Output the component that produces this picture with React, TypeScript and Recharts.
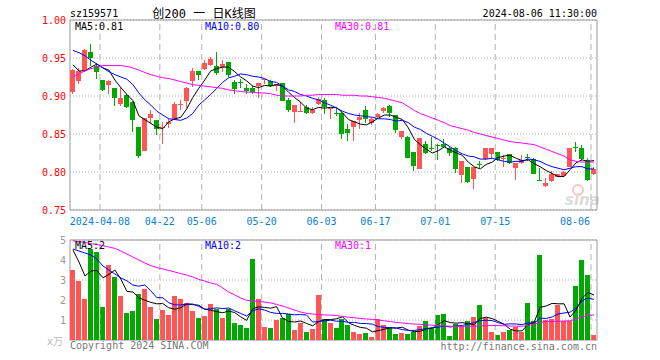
import React from 'react';
import {
  ComposedChart,
  Bar,
  Line,
  XAxis,
  YAxis,
  CartesianGrid,
  ReferenceLine,
  ReferenceArea
} from 'recharts';

// trading days 2024-03-28 .. 2024-08-06
const dates = [
  '03-28', '03-29', '04-01', '04-02', '04-03', '04-08', '04-09', '04-10', '04-11', '04-12',
  '04-15', '04-16', '04-17', '04-18', '04-19', '04-22', '04-23', '04-24', '04-25', '04-26',
  '04-29', '04-30', '05-06', '05-07', '05-08', '05-09', '05-10', '05-13', '05-14', '05-15',
  '05-16', '05-17', '05-20', '05-21', '05-22', '05-23', '05-24', '05-27', '05-28', '05-29',
  '05-30', '05-31', '06-03', '06-04', '06-05', '06-06', '06-07', '06-11', '06-12', '06-13',
  '06-14', '06-17', '06-18', '06-19', '06-20', '06-21', '06-24', '06-25', '06-26', '06-27',
  '06-28', '07-01', '07-02', '07-03', '07-04', '07-05', '07-08', '07-09', '07-10', '07-11',
  '07-12', '07-15', '07-16', '07-17', '07-18', '07-19', '07-22', '07-23', '07-24', '07-25',
  '07-26', '07-29', '07-30', '07-31', '08-01', '08-02', '08-05', '08-06'
];

const tickDates = ['04-08', '04-22', '05-06', '05-20', '06-03', '06-17', '07-01', '07-15', '08-06'];
const tickLabels = ['2024-04-08', '04-22', '05-06', '05-20', '06-03', '06-17', '07-01', '07-15', '08-06'];
const priceTicks = [0.75, 0.8, 0.85, 0.9, 0.95, 1.0];
const volTicks = [1, 2, 3, 4, 5];

const opens = [
  0.905, 0.920, 0.933, 0.958, 0.940, 0.921, 0.915, 0.911, 0.889, 0.901,
  0.892, 0.859, 0.828, 0.871, 0.868, 0.858, 0.863, 0.868, 0.888, 0.894,
  0.920, 0.933, 0.936, 0.941, 0.940, 0.938, 0.945, 0.919, 0.918, 0.911,
  0.911, 0.913, 0.921, 0.920, 0.913, 0.917, 0.895, 0.879, 0.880, 0.886,
  0.877, 0.889, 0.895, 0.883, 0.877, 0.878, 0.857, 0.859, 0.868, 0.881,
  0.865, 0.872, 0.880, 0.887, 0.875, 0.846, 0.846, 0.826, 0.804, 0.837,
  0.831, 0.835, 0.837, 0.831, 0.831, 0.796, 0.806, 0.791, 0.810, 0.817,
  0.824, 0.826, 0.818, 0.824, 0.805, 0.812, 0.820, 0.817, 0.790, 0.782,
  0.788, 0.794, 0.795, 0.806, 0.833, 0.832, 0.816, 0.797
];
const highs = [
  0.936, 0.937, 0.962, 0.969, 0.943, 0.921, 0.921, 0.911, 0.912, 0.903,
  0.893, 0.859, 0.871, 0.882, 0.868, 0.866, 0.870, 0.892, 0.895, 0.912,
  0.937, 0.933, 0.947, 0.951, 0.958, 0.947, 0.945, 0.921, 0.923, 0.916,
  0.914, 0.917, 0.923, 0.921, 0.916, 0.917, 0.898, 0.888, 0.892, 0.888,
  0.886, 0.899, 0.898, 0.884, 0.884, 0.879, 0.863, 0.867, 0.878, 0.887,
  0.873, 0.878, 0.886, 0.888, 0.875, 0.854, 0.847, 0.826, 0.845, 0.841,
  0.846, 0.837, 0.843, 0.833, 0.833, 0.814, 0.806, 0.807, 0.815, 0.831,
  0.831, 0.826, 0.822, 0.824, 0.812, 0.822, 0.824, 0.818, 0.805, 0.792,
  0.801, 0.798, 0.801, 0.832, 0.840, 0.836, 0.819, 0.807
];
const lows = [
  0.903, 0.916, 0.932, 0.940, 0.923, 0.906, 0.902, 0.887, 0.887, 0.884,
  0.852, 0.819, 0.827, 0.863, 0.849, 0.837, 0.858, 0.868, 0.882, 0.884,
  0.912, 0.921, 0.934, 0.940, 0.927, 0.932, 0.925, 0.903, 0.910, 0.902,
  0.903, 0.897, 0.916, 0.912, 0.906, 0.893, 0.879, 0.864, 0.879, 0.876,
  0.876, 0.888, 0.876, 0.870, 0.874, 0.844, 0.841, 0.841, 0.857, 0.864,
  0.862, 0.870, 0.878, 0.873, 0.851, 0.844, 0.818, 0.801, 0.804, 0.824,
  0.827, 0.816, 0.831, 0.821, 0.799, 0.786, 0.785, 0.777, 0.805, 0.816,
  0.818, 0.815, 0.807, 0.811, 0.790, 0.810, 0.815, 0.797, 0.788, 0.780,
  0.787, 0.793, 0.793, 0.806, 0.826, 0.816, 0.788, 0.796
];
const closes = [
  0.934, 0.933, 0.961, 0.950, 0.931, 0.908, 0.920, 0.898, 0.897, 0.886,
  0.868, 0.821, 0.871, 0.876, 0.857, 0.859, 0.866, 0.890, 0.889, 0.911,
  0.933, 0.927, 0.943, 0.949, 0.930, 0.942, 0.928, 0.909, 0.917, 0.906,
  0.905, 0.917, 0.923, 0.913, 0.916, 0.894, 0.881, 0.888, 0.880, 0.878,
  0.882, 0.896, 0.885, 0.884, 0.876, 0.850, 0.851, 0.867, 0.873, 0.870,
  0.870, 0.876, 0.884, 0.877, 0.855, 0.854, 0.819, 0.808, 0.845, 0.825,
  0.830, 0.834, 0.833, 0.825, 0.804, 0.814, 0.787, 0.807, 0.809, 0.831,
  0.831, 0.816, 0.819, 0.812, 0.812, 0.816, 0.819, 0.798, 0.789, 0.786,
  0.798, 0.797, 0.800, 0.832, 0.832, 0.817, 0.789, 0.804
];

const ma5 = [
  0.941, 0.933, 0.933, 0.938, 0.942, 0.937, 0.934, 0.921, 0.911, 0.902,
  0.894, 0.874, 0.869, 0.864, 0.859, 0.857, 0.866, 0.870, 0.872, 0.883,
  0.898, 0.910, 0.921, 0.933, 0.936, 0.938, 0.938, 0.932, 0.925, 0.920,
  0.913, 0.911, 0.914, 0.913, 0.915, 0.913, 0.905, 0.898, 0.892, 0.884,
  0.882, 0.885, 0.884, 0.885, 0.885, 0.878, 0.869, 0.866, 0.863, 0.862,
  0.866, 0.871, 0.875, 0.875, 0.872, 0.869, 0.858, 0.843, 0.836, 0.830,
  0.825, 0.828, 0.833, 0.829, 0.825, 0.822, 0.813, 0.807, 0.804, 0.810,
  0.813, 0.819, 0.821, 0.822, 0.818, 0.815, 0.816, 0.811, 0.807, 0.802,
  0.798, 0.794, 0.794, 0.803, 0.812, 0.816, 0.814, 0.815
];
const ma10 = [
  0.960, 0.957, 0.953, 0.947, 0.942, 0.937, 0.932, 0.928, 0.925, 0.922,
  0.915, 0.904, 0.895, 0.888, 0.880, 0.875, 0.870, 0.869, 0.868, 0.871,
  0.877, 0.888, 0.895, 0.902, 0.910, 0.918, 0.924, 0.926, 0.929, 0.928,
  0.926, 0.925, 0.923, 0.919, 0.918, 0.913, 0.908, 0.906, 0.902, 0.900,
  0.897, 0.895, 0.891, 0.888, 0.884, 0.880, 0.877, 0.875, 0.874, 0.873,
  0.872, 0.870, 0.870, 0.869, 0.867, 0.868, 0.865, 0.859, 0.856, 0.851,
  0.847, 0.843, 0.838, 0.833, 0.828, 0.824, 0.821, 0.820, 0.817, 0.817,
  0.818, 0.816, 0.814, 0.813, 0.814, 0.814, 0.817, 0.816, 0.814, 0.810,
  0.807, 0.805, 0.803, 0.805, 0.807, 0.807, 0.804, 0.804
];
const ma30 = [
  0.925, 0.929, 0.933, 0.936, 0.938, 0.940, 0.940, 0.940, 0.940, 0.939,
  0.937, 0.934, 0.931, 0.928, 0.926, 0.924, 0.923, 0.921, 0.919, 0.917,
  0.915, 0.914, 0.913, 0.912, 0.911, 0.910, 0.908, 0.907, 0.906, 0.905,
  0.905, 0.904, 0.904, 0.903, 0.901, 0.900, 0.900, 0.900, 0.900, 0.901,
  0.901, 0.902, 0.902, 0.902, 0.902, 0.901, 0.901, 0.901, 0.900, 0.900,
  0.899, 0.898, 0.897, 0.895, 0.893, 0.891, 0.886, 0.881, 0.877, 0.874,
  0.871, 0.868, 0.865, 0.861, 0.859, 0.857, 0.855, 0.852, 0.850, 0.848,
  0.846, 0.844, 0.842, 0.840, 0.839, 0.838, 0.837, 0.836, 0.833, 0.830,
  0.827, 0.824, 0.821, 0.816, 0.814, 0.813, 0.813, 0.813
];

// volume, unit: 万手
const volumes = [
  3.52, 2.93, 2.03, 4.53, 4.40, 1.65, 3.77, 3.17, 2.22, 1.35,
  1.47, 2.32, 2.57, 1.67, 1.03, 1.52, 1.25, 2.22, 2.07, 1.87,
  1.43, 1.12, 1.22, 1.82, 1.53, 1.12, 1.55, 0.85, 0.77, 0.62,
  4.03, 2.05, 0.67, 0.58, 1.02, 1.12, 1.28, 0.48, 0.83, 0.42,
  0.53, 2.27, 1.07, 0.83, 0.58, 1.07, 0.75, 0.42, 0.32, 0.37,
  0.17, 1.07, 0.75, 0.67, 0.32, 0.37, 0.32, 0.40, 0.72, 0.95,
  0.58, 1.27, 1.32, 0.22, 0.82, 0.72, 0.95, 1.15, 1.75, 1.12,
  0.38, 0.27, 0.42, 0.52, 0.67, 0.42, 1.87, 0.95, 4.25, 1.02,
  1.07, 1.77, 0.95, 0.95, 2.72, 4.02, 3.27, 0.27
];
const vma5 = [
  4.5, 3.9, 3.2, 3.45, 3.48, 3.11, 3.28, 3.50, 3.04, 2.43,
  2.40, 2.11, 1.99, 1.88, 1.81, 1.82, 1.61, 1.54, 1.62, 1.79,
  1.77, 1.74, 1.54, 1.49, 1.42, 1.36, 1.45, 1.37, 1.16, 0.98,
  1.56, 1.66, 1.63, 1.59, 1.67, 1.09, 0.93, 0.90, 0.95, 0.83,
  0.71, 0.91, 1.02, 1.02, 1.06, 1.16, 0.86, 0.73, 0.63, 0.59,
  0.41, 0.47, 0.54, 0.61, 0.60, 0.64, 0.49, 0.42, 0.43, 0.55,
  0.59, 0.78, 0.97, 0.87, 0.84, 0.87, 0.81, 0.77, 1.08, 1.14,
  1.07, 0.93, 0.79, 0.54, 0.45, 0.46, 0.78, 0.89, 1.63, 1.70,
  1.83, 1.81, 1.81, 1.15, 1.49, 2.08, 2.38, 2.25
];
const vma10 = [
  4.55, 4.45, 4.35, 4.25, 4.05, 3.7, 3.5, 3.3, 3.1, 2.96,
  2.75, 2.69, 2.75, 2.46, 2.12, 2.11, 1.86, 1.76, 1.75, 1.80,
  1.80, 1.68, 1.54, 1.56, 1.61, 1.57, 1.60, 1.46, 1.33, 1.20,
  1.46, 1.56, 1.50, 1.38, 1.33, 1.33, 1.30, 1.26, 1.27, 1.25,
  0.90, 0.92, 0.96, 0.99, 0.94, 0.94, 0.88, 0.88, 0.83, 0.82,
  0.79, 0.67, 0.63, 0.62, 0.59, 0.52, 0.48, 0.48, 0.52, 0.57,
  0.62, 0.64, 0.69, 0.65, 0.70, 0.73, 0.80, 0.87, 0.97, 0.99,
  0.97, 0.87, 0.78, 0.81, 0.80, 0.77, 0.86, 0.84, 1.09, 1.08,
  1.15, 1.30, 1.35, 1.39, 1.60, 1.96, 2.10, 2.03
];
const vma30 = [
  4.96, 4.92, 4.88, 4.82, 4.77, 4.72, 4.65, 4.58, 4.45, 4.3,
  4.15, 4.0, 3.85, 3.72, 3.62, 3.55, 3.48, 3.4, 3.32, 3.25,
  3.15, 3.03, 2.95, 2.85, 2.78, 2.6, 2.4, 2.25, 2.1, 1.98,
  1.95, 1.93, 1.9, 1.85, 1.78, 1.7, 1.6, 1.5, 1.4, 1.33,
  1.3, 1.27, 1.25, 1.25, 1.22, 1.18, 1.14, 1.11, 1.08, 1.05,
  1.03, 1.0, 0.96, 0.92, 0.88, 0.85, 0.82, 0.8, 0.78, 0.76,
  0.74, 0.72, 0.7, 0.69, 0.68, 0.68, 0.68, 0.69, 0.71, 0.72,
  0.72, 0.72, 0.71, 0.7, 0.69, 0.69, 0.72, 0.8, 0.88, 0.92,
  0.93, 0.94, 0.95, 0.96, 1.05, 1.15, 1.23, 1.25
];

const RED = '#ff5555';
const GREEN = '#00a800';
const GRID = '#b0b0b0';
const MONO = "'DejaVu Sans Mono', 'Liberation Mono', monospace";

const tickIdx = tickDates.map(d => dates.indexOf(d));

const rows = dates.map((d, i) => ({
  idx: i + 0.5,
  date: d,
  open: opens[i],
  high: highs[i],
  low: lows[i],
  close: closes[i],
  range: [lows[i], highs[i]],
  vol: volumes[i],
  ma5: ma5[i],
  ma10: ma10[i],
  ma30: ma30[i],
  vma5: vma5[i],
  vma10: vma10[i],
  vma30: vma30[i]
}));

const Candle = (props: any) => {
  const { x, y, height, payload } = props;
  if (x == null || y == null) return null;
  const top = Math.min(y, y + height);
  const h = Math.abs(height);
  const span = payload.high - payload.low;
  const k = span > 0 ? h / span : 0;
  const yOf = (v: number) => top + (payload.high - v) * k;
  const up = payload.close >= payload.open;
  const color = up ? RED : GREEN;
  const left = Math.round(x);
  const bTop = Math.round(yOf(Math.max(payload.open, payload.close)));
  const bBot = Math.round(yOf(Math.min(payload.open, payload.close)));
  const wTop = Math.round(top);
  const wBot = Math.round(top + h);
  return (
    <g shapeRendering="crispEdges">
      <rect x={left + 2} y={wTop} width={1} height={Math.max(1, wBot - wTop)} fill={color} />
      <rect x={left} y={bTop} width={5} height={Math.max(1, bBot - bTop)} fill={color} />
    </g>
  );
};

const VolBar = (props: any) => {
  const { x, y, height, payload } = props;
  if (x == null || y == null) return null;
  const up = payload.close >= payload.open;
  const top = Math.round(Math.min(y, y + height));
  const bot = Math.round(Math.max(y, y + height));
  return (
    <rect
      x={Math.round(x)}
      y={top}
      width={5}
      height={Math.max(1, bot - top)}
      fill={up ? RED : GREEN}
      shapeRendering="crispEdges"
    />
  );
};

const DateTick = (props: any) => {
  const { x, y, payload } = props;
  const i = tickIdx.indexOf(payload.value);
  const last = i === tickIdx.length - 1;
  return (
    <text
      x={last ? x - 1 : x}
      y={y + 15}
      textAnchor={last ? 'end' : 'middle'}
      fill="#0a7fd8"
      fontSize={10}
      fontFamily={MONO}
    >
      {tickLabels[i]}
    </text>
  );
};

const App: React.FC = () => {
  const n = dates.length;
  return (
    <div style={{ position: 'absolute', left: 0, top: 0, width: 660, height: 360, background: '#fff' }}>
      <div style={{ position: 'absolute', left: 0, top: 0 }}>
        <ComposedChart
          width={660}
          height={232}
          data={rows}
          margin={{ top: 20, right: 63, bottom: 0, left: 0 }}
        >
          <CartesianGrid vertical={false} stroke={GRID} strokeDasharray="1 2" />
          {tickIdx.map(t => (
            <ReferenceLine key={t} x={t} stroke={GRID} strokeDasharray="6 4" />
          ))}
          <XAxis
            type="number"
            dataKey="idx"
            domain={[0, n]}
            ticks={tickIdx}
            interval={0}
            height={22}
            axisLine={false}
            tickLine={false}
            tickSize={0}
            tickMargin={0}
            tick={<DateTick />}
          />
          <YAxis
            domain={[0.75, 1]}
            ticks={priceTicks}
            width={70}
            axisLine={false}
            tickLine={false}
            tickSize={0}
            tickMargin={4}
            tick={{ fill: '#ff0000', fontSize: 10, fontFamily: MONO }}
            tickFormatter={(v: number) => v.toFixed(2)}
          />
          <ReferenceArea x1={0} x2={n} y1={0.75} y2={1} fill="none" stroke="#999" />
          <Bar dataKey="range" barSize={5} shape={<Candle />} isAnimationActive={false} />
          <Line dataKey="ma5" stroke="#000000" dot={false} strokeWidth={1} isAnimationActive={false} />
          <Line dataKey="ma10" stroke="#0000ff" dot={false} strokeWidth={1} isAnimationActive={false} />
          <Line dataKey="ma30" stroke="#ff00ff" dot={false} strokeWidth={1} isAnimationActive={false} />
        </ComposedChart>
      </div>

      <div style={{ position: 'absolute', left: 0, top: 232 }}>
        <ComposedChart
          width={660}
          height={128}
          data={rows}
          margin={{ top: 8, right: 63, bottom: 20, left: 0 }}
        >
          <CartesianGrid vertical={false} stroke={GRID} strokeDasharray="1 2" />
          {tickIdx.map(t => (
            <ReferenceLine key={t} x={t} stroke={GRID} strokeDasharray="6 4" />
          ))}
          <XAxis type="number" dataKey="idx" domain={[0, n]} ticks={tickIdx} hide />
          <YAxis
            domain={[0, 5]}
            ticks={volTicks}
            width={70}
            axisLine={false}
            tickLine={false}
            tickSize={0}
            tickMargin={4}
            tick={{ fill: '#999999', fontSize: 10, fontFamily: MONO }}
          />
          <ReferenceArea x1={0} x2={n} y1={0} y2={5} fill="none" stroke="#999" />
          <Bar dataKey="vol" barSize={5} shape={<VolBar />} isAnimationActive={false} />
          <Line dataKey="vma5" stroke="#000000" dot={false} strokeWidth={1} isAnimationActive={false} />
          <Line dataKey="vma10" stroke="#0000ff" dot={false} strokeWidth={1} isAnimationActive={false} />
          <Line dataKey="vma30" stroke="#ff00ff" dot={false} strokeWidth={1} isAnimationActive={false} />
        </ComposedChart>
      </div>

      <svg
        width={660}
        height={360}
        style={{ position: 'absolute', left: 0, top: 0, pointerEvents: 'none' }}
        fontFamily={MONO}
        fontSize={10}
      >
        <text x={70} y={17} fill="#000">sz159571</text>
        <text
          x={204}
          y={18}
          textAnchor="middle"
          fontSize={12}
          fontFamily="'DejaVu Sans Mono', 'Noto Sans CJK SC', monospace"
          fill="#000"
        >
          创200 一 日K线图
        </text>
        <text x={597} y={17} textAnchor="end" fill="#000">2024-08-06 11:30:00</text>

        <text x={75} y={30} fill="#000000">MA5:0.81</text>
        <text x={205} y={30} fill="#0000ff">MA10:0.80</text>
        <text x={335} y={30} fill="#ff00ff">MA30:0.81</text>

        <g opacity={0.35}>
          <circle cx={578} cy={190} r={5} fill="none" stroke="#e06060" strokeWidth={2} />
          <text x={565} y={205} fontSize={15} fontStyle="italic" fontWeight="bold" fill="#999" fontFamily="'DejaVu Sans', sans-serif">sina</text>
        </g>

        <text x={75} y={249} fill="#000000">MA5:2</text>
        <text x={205} y={249} fill="#0000ff">MA10:2</text>
        <text x={335} y={249} fill="#ff00ff">MA30:1</text>

        <text x={63} y={345} textAnchor="end" fill="#bbbbbb" fontFamily="'DejaVu Sans', 'Noto Sans CJK SC', sans-serif">x万</text>
        <text x={70} y={349} fill="#777777">Copyright 2024 SINA.COM</text>
        <text x={597} y={350} textAnchor="end" fill="#777777">http://finance.sina.com.cn</text>
      </svg>
    </div>
  );
};

export default App;
